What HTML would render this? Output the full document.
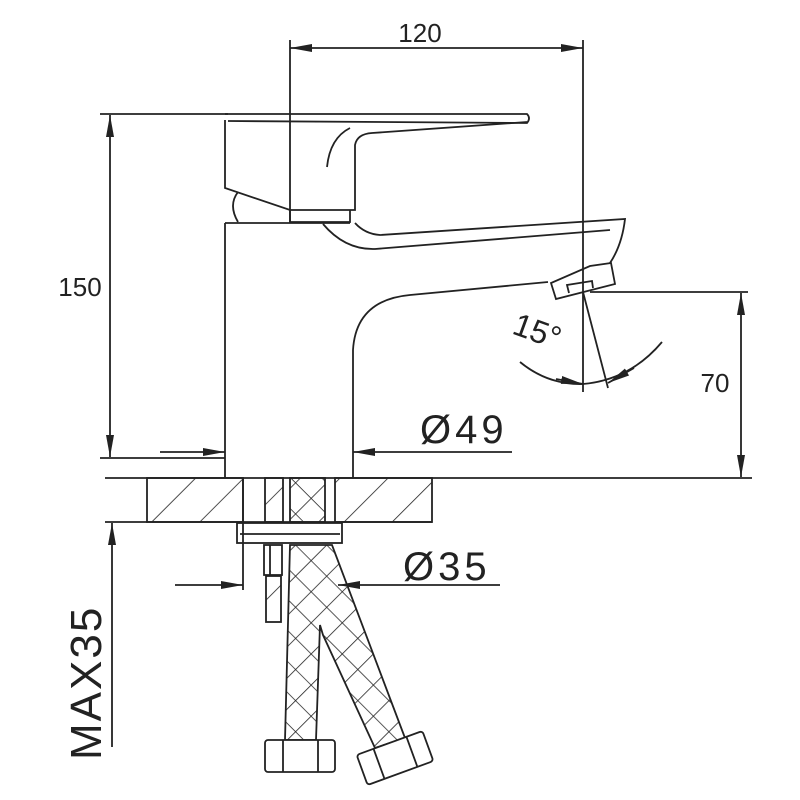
<!DOCTYPE html>
<html><head><style>
html,body{margin:0;padding:0;background:#fff}
svg{display:block}
text{font-family:"Liberation Sans",sans-serif;fill:#222}
</style></head><body>
<svg width="800" height="800" viewBox="0 0 800 800" xmlns="http://www.w3.org/2000/svg">
<defs>
<marker id="a" markerWidth="22" markerHeight="10" refX="22" refY="5" orient="auto" markerUnits="userSpaceOnUse"><path d="M0,1 L22,5 L0,9 Z" fill="#222"/></marker>
<pattern id="h" width="34" height="34" patternUnits="userSpaceOnUse" patternTransform="rotate(45)"><line x1="0" y1="0" x2="0" y2="34" stroke="#222" stroke-width="1.6"/></pattern>
<pattern id="x" width="22" height="22" patternUnits="userSpaceOnUse" patternTransform="rotate(45)"><path d="M0 0V22M0 0H22" stroke="#222" stroke-width="1.6"/></pattern>
</defs>
<g stroke="#222" stroke-width="1.8" fill="none">
<line x1="290" y1="40" x2="290" y2="222"/>
<line x1="583" y1="40" x2="583" y2="392"/>
<line x1="320" y1="48" x2="290" y2="48" marker-end="url(#a)"/>
<line x1="320" y1="48" x2="553" y2="48"/>
<line x1="553" y1="48" x2="583" y2="48" marker-end="url(#a)"/>
<line x1="100" y1="114" x2="228" y2="114"/>
<line x1="100" y1="458" x2="225" y2="458"/>
<line x1="110" y1="140" x2="110" y2="115" marker-end="url(#a)"/>
<line x1="110" y1="140" x2="110" y2="433"/>
<line x1="110" y1="433" x2="110" y2="457" marker-end="url(#a)"/>
<path d="M225,114 L527,114 Q531,118 527,123 L228,121"/>
<path d="M225,120 L225,188 L290,210 L355,210 L355,145 Q357,134 372,133 L527,122"/>
<path d="M327,167 Q330,138 350,128"/>
<path d="M290,210 L290,222 L350,222 L350,210"/>
<path d="M238,222 Q228,205 238,192"/>
<path d="M225,223 L225,478"/>
<line x1="225" y1="223" x2="350" y2="223"/>
<path d="M353,478 L353,350 Q356,300 410,295 L548,282"/>
<path d="M323,224 Q345,250 375,249 L610,230"/>
<path d="M355,223 Q365,234 380,235 L625,219 Q622,245 610,263"/>
<path d="M551,283 L556,299 L615,284 L611,263 L590,266 Z"/>
<path d="M569,293 L567,285 L592,281 L593,288"/>
<line x1="583" y1="292" x2="608" y2="388"/>
<path d="M520,362 Q548,385 583,384"/>
<path d="M583,384 Q630,380 662,342"/>
<path d="M556,379 L583,384" marker-end="url(#a)"/>
<path d="M634,368 L608,383" marker-end="url(#a)"/>
<line x1="590" y1="292" x2="748" y2="292"/>
<line x1="741" y1="318" x2="741" y2="293" marker-end="url(#a)"/>
<line x1="741" y1="318" x2="741" y2="452"/>
<line x1="741" y1="452" x2="741" y2="477" marker-end="url(#a)"/>
<line x1="160" y1="452" x2="225" y2="452" marker-end="url(#a)"/>
<line x1="512" y1="452" x2="353" y2="452" marker-end="url(#a)"/>
<line x1="105" y1="478" x2="752" y2="478"/>
<line x1="105" y1="522" x2="432" y2="522"/>
<rect x="147" y="478" width="96" height="44" fill="url(#h)"/>
<rect x="335" y="478" width="97" height="44" fill="url(#h)"/>
<rect x="265" y="478" width="18" height="44" fill="url(#h)"/>
<rect x="290" y="478" width="35" height="44" fill="url(#x)"/>
<line x1="243" y1="478" x2="243" y2="590"/>
<rect x="237" y="523" width="105" height="20"/>
<line x1="240" y1="534" x2="340" y2="534"/>
<rect x="264" y="545" width="18" height="30"/>
<line x1="270" y1="545" x2="270" y2="575"/>
<rect x="266" y="576" width="15" height="46" fill="url(#h)"/>
<line x1="175" y1="585" x2="243" y2="585" marker-end="url(#a)"/>
<line x1="500" y1="585" x2="338" y2="585" marker-end="url(#a)"/>
<path d="M290,545 L285,740 L316,740 L320,625 L323,635 L375,748 L405,738 L332,545 Z" fill="url(#x)"/>
<rect x="265" y="740" width="70" height="32" rx="3" fill="#fff"/>
<line x1="283" y1="740" x2="283" y2="772"/><line x1="318" y1="740" x2="318" y2="772"/>
<g transform="rotate(-20 395 758)"><rect x="360" y="742" width="70" height="32" rx="3" fill="#fff"/><line x1="378" y1="742" x2="378" y2="774"/><line x1="413" y1="742" x2="413" y2="774"/></g>
<line x1="112" y1="550" x2="112" y2="523" marker-end="url(#a)"/>
<line x1="112" y1="550" x2="112" y2="747"/>
</g>
<text x="420" y="42" font-size="26" text-anchor="middle">120</text>
<text x="80" y="296" font-size="26" text-anchor="middle">150</text>
<text x="715" y="392" font-size="26" text-anchor="middle">70</text>
<text x="420" y="443" font-size="40" letter-spacing="4">Ø49</text>
<text x="403" y="580" font-size="40" letter-spacing="4">Ø35</text>
<text x="537" y="342" font-size="32" text-anchor="middle" transform="rotate(20 537 332)">15°</text>
<text x="0" y="0" font-size="44" letter-spacing="2" transform="translate(101,760) rotate(-90)">MAX35</text>
</svg>
</body></html>
